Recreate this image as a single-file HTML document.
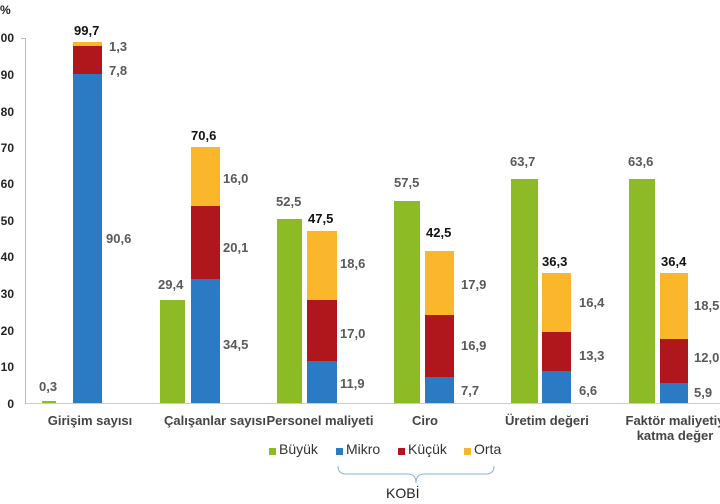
<!DOCTYPE html>
<html><head><meta charset="utf-8"><style>
body{margin:0;width:720px;height:504px;background:#fff;position:relative;overflow:hidden;font-family:"Liberation Sans",sans-serif;}
div{position:absolute;}
.g{background:#8dbb25}.m{background:#2a7bc4}.k{background:#b0171c}.o{background:#fbb72b}
.t{font-size:13px;font-weight:bold;color:#595959;white-space:nowrap;}
.tt{font-size:13px;font-weight:bold;color:#111;white-space:nowrap;}
.y{font-size:12px;font-weight:bold;color:#222;width:18px;text-align:right;left:-4px}
.c{font-size:13px;font-weight:bold;color:#444;text-align:center;white-space:nowrap;line-height:15px}
</style></head><body>
<div class="y" style="top:3px;left:0;text-align:left">%</div>
<div class="y" style="top:31px">00</div>
<div class="y" style="top:68px">90</div>
<div class="y" style="top:105px">80</div>
<div class="y" style="top:141px">70</div>
<div class="y" style="top:177px">60</div>
<div class="y" style="top:214px">50</div>
<div class="y" style="top:250px">40</div>
<div class="y" style="top:287px">30</div>
<div class="y" style="top:324px">20</div>
<div class="y" style="top:360px">10</div>
<div class="y" style="top:397px">0</div>
<div style="left:25px;top:38px;width:1px;height:366px;background:#bbb"></div>
<div style="left:25px;top:403px;width:695px;height:1px;background:#ccc"></div>
<div style="left:21px;top:38px;width:4px;height:1px;background:#bbb"></div>

<div class="g" style="left:42px;top:401px;width:14px;height:2px"></div>
<div class="m" style="left:73px;top:74px;width:29px;height:329px"></div>
<div class="k" style="left:73px;top:46px;width:29px;height:28px"></div>
<div class="o" style="left:73px;top:42px;width:29px;height:4px"></div>
<div class="t" style="left:39px;top:379px">0,3</div>
<div class="tt" style="left:74px;top:23px">99,7</div>
<div class="t" style="left:109px;top:39px">1,3</div>
<div class="t" style="left:109px;top:63px">7,8</div>
<div class="t" style="left:106px;top:231px">90,6</div>

<div class="g" style="left:160px;top:300px;width:25px;height:103px"></div>
<div class="m" style="left:191px;top:279px;width:29px;height:124px"></div>
<div class="k" style="left:191px;top:206px;width:29px;height:73px"></div>
<div class="o" style="left:191px;top:147px;width:29px;height:59px"></div>
<div class="t" style="left:158px;top:277px">29,4</div>
<div class="tt" style="left:191px;top:128px">70,6</div>
<div class="t" style="left:223px;top:171px">16,0</div>
<div class="t" style="left:223px;top:240px">20,1</div>
<div class="t" style="left:223px;top:337px">34,5</div>

<div class="g" style="left:277px;top:219px;width:25px;height:184px"></div>
<div class="m" style="left:307px;top:361px;width:30px;height:42px"></div>
<div class="k" style="left:307px;top:300px;width:30px;height:61px"></div>
<div class="o" style="left:307px;top:231px;width:30px;height:69px"></div>
<div class="t" style="left:276px;top:194px">52,5</div>
<div class="tt" style="left:308px;top:211px">47,5</div>
<div class="t" style="left:340px;top:256px">18,6</div>
<div class="t" style="left:340px;top:326px">17,0</div>
<div class="t" style="left:340px;top:376px">11,9</div>

<div class="g" style="left:394px;top:201px;width:26px;height:202px"></div>
<div class="m" style="left:425px;top:377px;width:29px;height:26px"></div>
<div class="k" style="left:425px;top:315px;width:29px;height:62px"></div>
<div class="o" style="left:425px;top:251px;width:29px;height:64px"></div>
<div class="t" style="left:394px;top:175px">57,5</div>
<div class="tt" style="left:426px;top:225px">42,5</div>
<div class="t" style="left:461px;top:277px">17,9</div>
<div class="t" style="left:461px;top:338px">16,9</div>
<div class="t" style="left:461px;top:383px">7,7</div>

<div class="g" style="left:511px;top:179px;width:27px;height:224px"></div>
<div class="m" style="left:542px;top:371px;width:29px;height:32px"></div>
<div class="k" style="left:542px;top:332px;width:29px;height:39px"></div>
<div class="o" style="left:542px;top:273px;width:29px;height:59px"></div>
<div class="t" style="left:510px;top:154px">63,7</div>
<div class="tt" style="left:542px;top:254px">36,3</div>
<div class="t" style="left:579px;top:295px">16,4</div>
<div class="t" style="left:579px;top:348px">13,3</div>
<div class="t" style="left:579px;top:383px">6,6</div>

<div class="g" style="left:629px;top:179px;width:26px;height:224px"></div>
<div class="m" style="left:660px;top:383px;width:28px;height:20px"></div>
<div class="k" style="left:660px;top:339px;width:28px;height:44px"></div>
<div class="o" style="left:660px;top:273px;width:28px;height:66px"></div>
<div class="t" style="left:628px;top:154px">63,6</div>
<div class="tt" style="left:661px;top:254px">36,4</div>
<div class="t" style="left:694px;top:298px">18,5</div>
<div class="t" style="left:694px;top:350px">12,0</div>
<div class="t" style="left:694px;top:385px">5,9</div>

<div class="c" style="left:30px;width:120px;top:413px">Girişim sayısı</div>
<div class="c" style="left:140px;width:150px;top:413px">Çalışanlar sayısı</div>
<div class="c" style="left:265px;width:110px;top:413px">Personel maliyeti</div>
<div class="c" style="left:390px;width:70px;top:413px">Ciro</div>
<div class="c" style="left:505px;width:80px;top:413px">Üretim değeri</div>
<div class="c" style="left:610px;width:130px;top:413px">Faktör maliyetiy<br>katma değer</div>

<div style="left:269px;top:448px;width:7px;height:7px;background:#8dbb25"></div>
<div class="c" style="left:279px;top:442px;font-weight:normal;color:#333;font-size:14px">Büyük</div>
<div style="left:336px;top:448px;width:7px;height:7px;background:#2a7bc4"></div>
<div class="c" style="left:346px;top:442px;font-weight:normal;color:#333;font-size:14px">Mikro</div>
<div style="left:398px;top:448px;width:7px;height:7px;background:#b0171c"></div>
<div class="c" style="left:408px;top:442px;font-weight:normal;color:#333;font-size:14px">Küçük</div>
<div style="left:464px;top:448px;width:7px;height:7px;background:#fbb72b"></div>
<div class="c" style="left:474px;top:442px;font-weight:normal;color:#333;font-size:14px">Orta</div>
<svg style="position:absolute;left:330px;top:465px" width="170" height="22"><path d="M8 1 Q8 9 16 9 L78 9 Q86 9 86 18 Q86 9 94 9 L156 9 Q164 9 164 1" fill="none" stroke="#8db3d6" stroke-width="1"/></svg>
<div class="c" style="left:386px;top:486px;font-weight:normal;color:#222;font-size:14px">KOBİ</div>
</body></html>
